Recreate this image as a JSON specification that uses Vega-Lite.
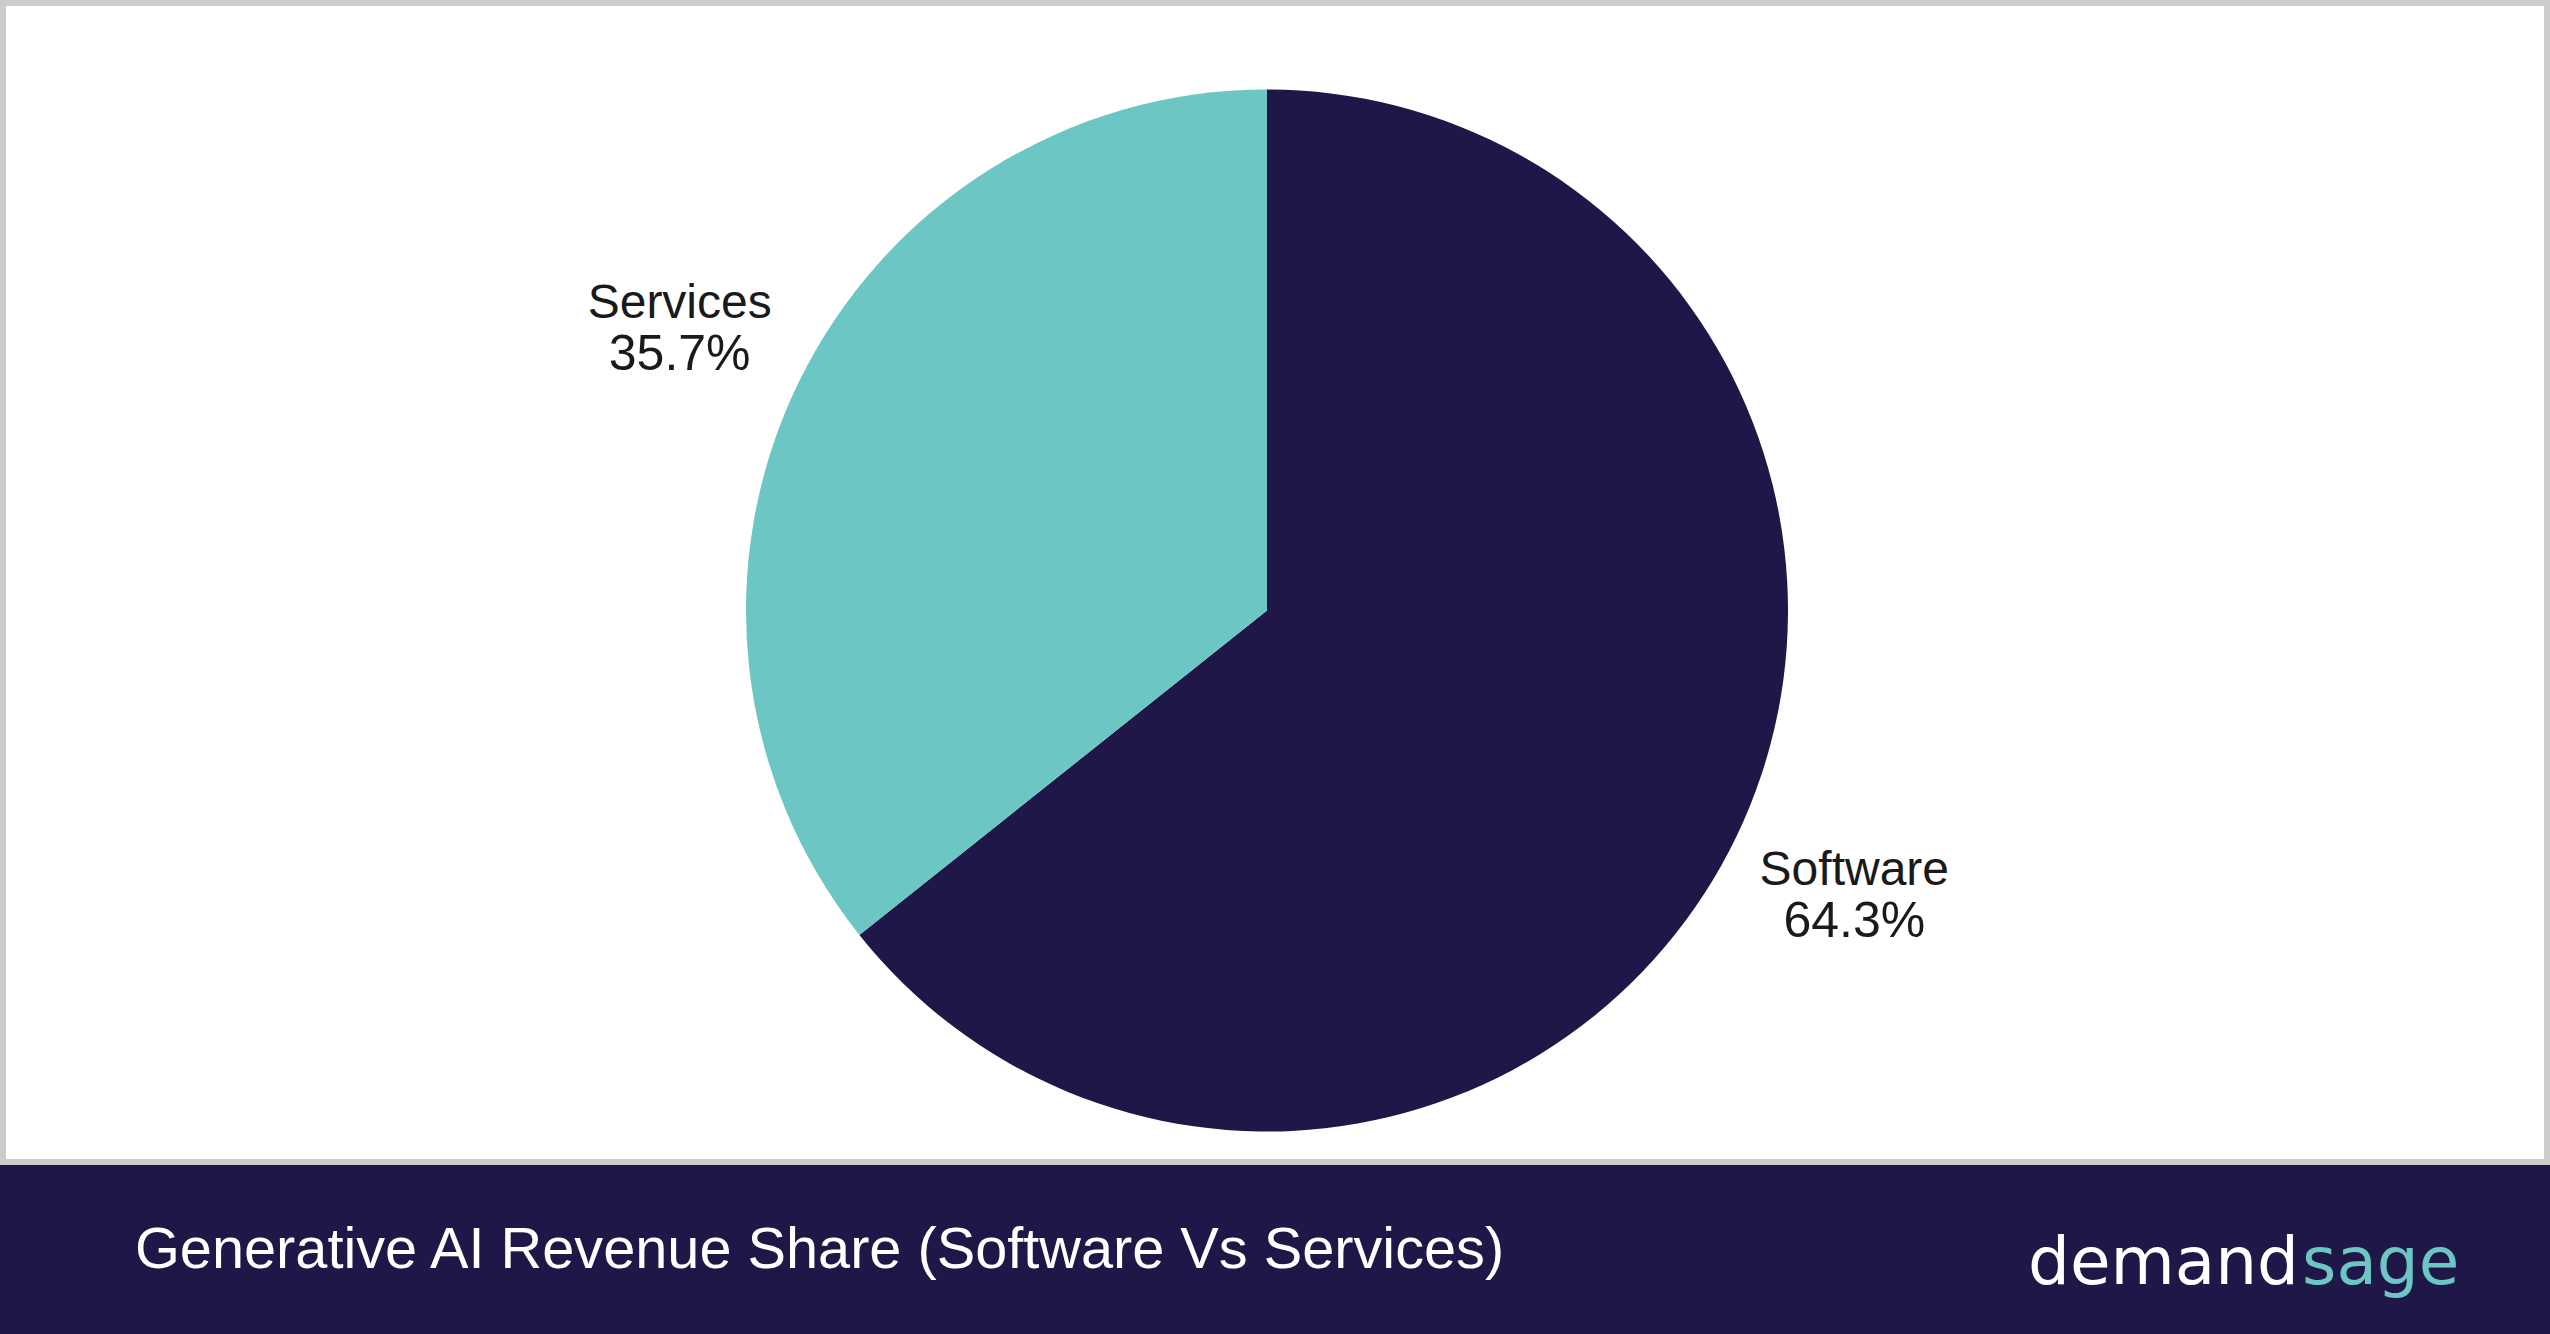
{
  "$schema": "https://vega.github.io/schema/vega-lite/v6.json",
  "background": "#1f1747",
  "padding": 0,
  "spacing": 0,
  "config": {"view": {"stroke": null}},
  "datasets": {
    "share": [
      {"category": "Software", "value": 64.3, "pct": "64.3%"},
      {"category": "Services", "value": 35.7, "pct": "35.7%"}
    ],
    "footer": [
      {"title": "Generative AI Revenue Share (Software Vs Services)", "brand1": "demand", "brand2": "sage"}
    ]
  },
  "vconcat": [
    {
      "width": 2544,
      "height": 1159,
      "view": {"stroke": "#cccccc", "strokeWidth": 6, "fill": "#ffffff"},
      "data": {"name": "share"},
      "encoding": {
        "theta": {"field": "value", "type": "quantitative", "stack": true},
        "order": {"field": "value", "type": "quantitative", "sort": "descending"}
      },
      "layer": [
        {
          "mark": {"type": "arc", "outerRadius": 521, "xOffset": -8, "yOffset": 28},
          "encoding": {
            "color": {
              "field": "category", "type": "nominal",
              "scale": {"domain": ["Software", "Services"], "range": ["#1f1747", "#6cc7c4"]},
              "legend": null
            }
          }
        },
        {
          "mark": {"type": "text", "radius": 652, "xOffset": -8, "yOffset": 28, "dy": -9, "fontSize": 48, "font": "Liberation Sans", "fill": "#1a1a1a", "align": "center", "baseline": "alphabetic"},
          "encoding": {
            "detail": {"field": "category", "type": "nominal"},
            "text": {"field": "category", "type": "nominal"}
          }
        },
        {
          "mark": {"type": "text", "radius": 652, "xOffset": -8, "yOffset": 28, "dy": 43, "fontSize": 50, "font": "Liberation Sans", "fill": "#1a1a1a", "align": "center", "baseline": "alphabetic"},
          "encoding": {
            "detail": {"field": "category", "type": "nominal"},
            "text": {"field": "pct", "type": "nominal"}
          }
        }
      ]
    },
    {
      "width": 2550,
      "height": 170,
      "view": {"fill": "#1f1747", "stroke": null},
      "data": {"name": "footer"},
      "layer": [
        {
          "mark": {"type": "text", "x": 132, "y": 103, "align": "left", "baseline": "alphabetic", "fontSize": 57.7, "font": "Liberation Sans", "fill": "#ffffff"},
          "encoding": {"text": {"field": "title", "type": "nominal"}}
        },
        {
          "mark": {"type": "text", "x": 2296, "y": 119, "align": "right", "baseline": "alphabetic", "fontSize": 66, "font": "DejaVu Sans", "fill": "#ffffff"},
          "encoding": {"text": {"field": "brand1", "type": "nominal"}}
        },
        {
          "mark": {"type": "text", "x": 2299, "y": 119, "align": "left", "baseline": "alphabetic", "fontSize": 66, "font": "DejaVu Sans", "fill": "#6cc7c4"},
          "encoding": {"text": {"field": "brand2", "type": "nominal"}}
        }
      ]
    }
  ]
}
